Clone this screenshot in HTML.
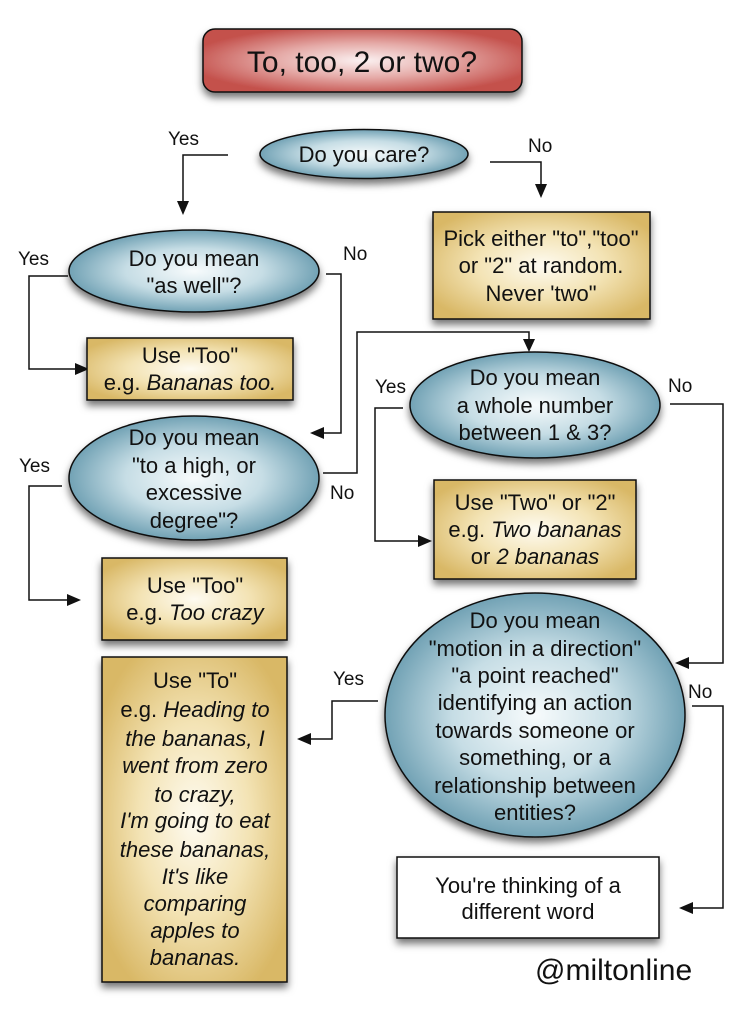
<!DOCTYPE html>
<html>
<head>
<meta charset="utf-8">
<style>
  html,body{margin:0;padding:0;background:#fff;}
  svg{display:block;}
  text{font-family:"Liberation Sans",Arial,sans-serif;fill:#111;}
  .t{font-size:22px;text-anchor:middle;}
  .l{font-size:19px;}
  .i{font-style:italic;}
</style>
</head>
<body>
<svg width="756" height="1024" viewBox="0 0 756 1024" xmlns="http://www.w3.org/2000/svg">
  <defs>
    <radialGradient id="gb" cx="0.5" cy="0.5" r="0.55">
      <stop offset="0" stop-color="#f7fbfc"/>
      <stop offset="0.5" stop-color="#c6dde5"/>
      <stop offset="1" stop-color="#5f95aa"/>
    </radialGradient>
    <radialGradient id="gy" cx="0.5" cy="0.5" r="0.6">
      <stop offset="0" stop-color="#fefbf1"/>
      <stop offset="0.5" stop-color="#f3e3b4"/>
      <stop offset="1" stop-color="#d9b866"/>
    </radialGradient>
    <radialGradient id="gr" cx="0.5" cy="0.5" r="0.55">
      <stop offset="0" stop-color="#fbf1f1"/>
      <stop offset="0.5" stop-color="#e5aaa7"/>
      <stop offset="1" stop-color="#c4514c"/>
    </radialGradient>
    <filter id="sh" x="-20%" y="-20%" width="140%" height="150%">
      <feDropShadow dx="0" dy="5" stdDeviation="4" flood-color="#000" flood-opacity="0.55"/>
    </filter>
  </defs>

  <!-- Title -->
  <rect x="203" y="29" width="319" height="63" rx="12" fill="url(#gr)" stroke="#111" stroke-width="1.5" filter="url(#sh)"/>
  <text x="362" y="72" style="font-size:30px;text-anchor:middle;">To, too, 2 or two?</text>

  <!-- Do you care -->
  <ellipse cx="364" cy="154" rx="104" ry="24.5" fill="url(#gb)" stroke="#111" stroke-width="1.5" filter="url(#sh)"/>
  <text class="t" x="364" y="162">Do you care?</text>

  <!-- Yes top -->
  <text class="l" x="168" y="145">Yes</text>
  <polyline points="228,155 183,155 183,203" fill="none" stroke="#111" stroke-width="1.5"/>
  <polygon points="177,201 189,201 183,215" fill="#111"/>
  <!-- No top -->
  <text class="l" x="528" y="152">No</text>
  <polyline points="490,162 541,162 541,186" fill="none" stroke="#111" stroke-width="1.5"/>
  <polygon points="535,184 547,184 541,198" fill="#111"/>

  <!-- Pick box -->
  <rect x="433" y="212" width="217" height="107" fill="url(#gy)" stroke="#111" stroke-width="1.5" filter="url(#sh)"/>
  <text class="t" x="541" y="246">Pick either "to","too"</text>
  <text class="t" x="541" y="273">or "2" at random.</text>
  <text class="t" x="541" y="301">Never 'two"</text>

  <!-- As well ellipse -->
  <ellipse cx="194" cy="271" rx="125" ry="41" fill="url(#gb)" stroke="#111" stroke-width="1.5" filter="url(#sh)"/>
  <text class="t" x="194" y="266">Do you mean</text>
  <text class="t" x="194" y="293">"as well"?</text>
  <text class="l" x="18" y="265">Yes</text>
  <polyline points="68,276 29,276 29,369 77,369" fill="none" stroke="#111" stroke-width="1.5"/>
  <polygon points="75,363 75,375 89,369" fill="#111"/>
  <text class="l" x="343" y="260">No</text>
  <polyline points="326,274 341,274 341,433 322,433" fill="none" stroke="#111" stroke-width="1.5"/>
  <polygon points="324,427 324,439 310,433" fill="#111"/>

  <!-- Box bananas too -->
  <rect x="87" y="338" width="206" height="62" fill="url(#gy)" stroke="#111" stroke-width="1.5" filter="url(#sh)"/>
  <text class="t" x="190" y="363">Use "Too"</text>
  <text class="t" x="190" y="390">e.g. <tspan class="i">Bananas too.</tspan></text>

  <!-- To a high ellipse -->
  <ellipse cx="194" cy="478" rx="125" ry="62" fill="url(#gb)" stroke="#111" stroke-width="1.5" filter="url(#sh)"/>
  <text class="t" x="194" y="445">Do you mean</text>
  <text class="t" x="194" y="473">"to a high, or</text>
  <text class="t" x="194" y="500">excessive</text>
  <text class="t" x="194" y="528">degree"?</text>
  <text class="l" x="19" y="472">Yes</text>
  <polyline points="62,486 29,486 29,600 69,600" fill="none" stroke="#111" stroke-width="1.5"/>
  <polygon points="67,594 67,606 81,600" fill="#111"/>
  <text class="l" x="330" y="499">No</text>
  <polyline points="323,473 357,473 357,332 529,332 529,340" fill="none" stroke="#111" stroke-width="1.5"/>
  <polygon points="523,339 535,339 529,352" fill="#111"/>

  <!-- Too crazy box -->
  <rect x="102" y="558" width="185" height="82" fill="url(#gy)" stroke="#111" stroke-width="1.5" filter="url(#sh)"/>
  <text class="t" x="195" y="593">Use "Too"</text>
  <text class="t" x="195" y="620">e.g. <tspan class="i">Too crazy</tspan></text>

  <!-- Use To box -->
  <rect x="102" y="657" width="185" height="325" fill="url(#gy)" stroke="#111" stroke-width="1.5" filter="url(#sh)"/>
  <text class="t" x="195" y="688">Use "To"</text>
  <text class="t" x="195" y="717">e.g. <tspan class="i">Heading to</tspan></text>
  <text class="t i" x="195" y="746">the bananas, I</text>
  <text class="t i" x="195" y="773">went from zero</text>
  <text class="t i" x="195" y="802">to crazy,</text>
  <text class="t i" x="195" y="828">I'm going to eat</text>
  <text class="t i" x="195" y="857">these bananas,</text>
  <text class="t i" x="195" y="884">It's like</text>
  <text class="t i" x="195" y="911">comparing</text>
  <text class="t i" x="195" y="938">apples to</text>
  <text class="t i" x="195" y="965">bananas.</text>

  <!-- Whole number ellipse -->
  <ellipse cx="535" cy="405" rx="125" ry="53" fill="url(#gb)" stroke="#111" stroke-width="1.5" filter="url(#sh)"/>
  <text class="t" x="535" y="385">Do you mean</text>
  <text class="t" x="535" y="413">a whole number</text>
  <text class="t" x="535" y="440">between 1 &amp; 3?</text>
  <text class="l" x="375" y="393">Yes</text>
  <polyline points="403,408 375,408 375,541 420,541" fill="none" stroke="#111" stroke-width="1.5"/>
  <polygon points="418,535 418,547 432,541" fill="#111"/>
  <text class="l" x="668" y="392">No</text>
  <polyline points="670,404 723,404 723,663 687,663" fill="none" stroke="#111" stroke-width="1.5"/>
  <polygon points="689,657 689,669 675,663" fill="#111"/>

  <!-- Two box -->
  <rect x="434" y="480" width="202" height="99" fill="url(#gy)" stroke="#111" stroke-width="1.5" filter="url(#sh)"/>
  <text class="t" x="535" y="510">Use "Two" or "2"</text>
  <text class="t" x="535" y="537">e.g. <tspan class="i">Two bananas</tspan></text>
  <text class="t" x="535" y="564">or <tspan class="i">2 bananas</tspan></text>

  <!-- Motion ellipse -->
  <ellipse cx="535" cy="715" rx="150" ry="122" fill="url(#gb)" stroke="#111" stroke-width="1.5" filter="url(#sh)"/>
  <text class="t" x="535" y="628">Do you mean</text>
  <text class="t" x="535" y="656">"motion in a direction"</text>
  <text class="t" x="535" y="683">"a point reached"</text>
  <text class="t" x="535" y="710">identifying an action</text>
  <text class="t" x="535" y="738">towards someone or</text>
  <text class="t" x="535" y="765">something, or a</text>
  <text class="t" x="535" y="793">relationship between</text>
  <text class="t" x="535" y="820">entities?</text>
  <text class="l" x="333" y="685">Yes</text>
  <polyline points="378,701 332,701 332,739 309,739" fill="none" stroke="#111" stroke-width="1.5"/>
  <polygon points="311,733 311,745 297,739" fill="#111"/>
  <text class="l" x="688" y="698">No</text>
  <polyline points="692,706 723,706 723,908 691,908" fill="none" stroke="#111" stroke-width="1.5"/>
  <polygon points="693,902 693,914 679,908" fill="#111"/>

  <!-- Different word -->
  <rect x="397" y="857" width="262" height="81" fill="#fff" stroke="#111" stroke-width="1.5" filter="url(#sh)"/>
  <text class="t" x="528" y="893">You're thinking of a</text>
  <text class="t" x="528" y="919">different word</text>

  <text x="535" y="980" style="font-size:30px;">@miltonline</text>
</svg>
</body>
</html>
